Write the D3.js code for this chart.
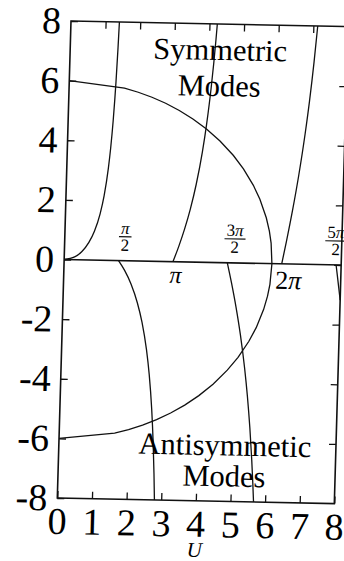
<!DOCTYPE html>
<html>
<head>
<meta charset="utf-8">
<script src="https://cdn.jsdelivr.net/npm/d3@7/dist/d3.min.js"></script>
<style>
  html, body { margin: 0; padding: 0; background: #fff; }
  svg { display: block; }
  text { font-family: "Liberation Serif", "Times New Roman", serif; fill: #000; }
</style>
</head>
<body>
<svg id="chart" width="344" height="561"></svg>
<script>
// Axis ticks
const uTicks = [0, 1, 2, 3, 4, 5, 6, 7, 8];
const wTicks = [-8, -6, -4, -2, 0, 2, 4, 6, 8];
const innerTicksU = [1, 2, 3, 4, 5, 6, 7];
const innerTicksW = [-6, -4, -2, 0, 2, 4, 6];

// Normalised frequency circle U^2 + W^2 = V^2 with V = 6 (upper and lower halves)
const circleUpper = [
  [0, 6], [1.6, 5.783], [2.0, 5.657], [2.4, 5.499], [2.8, 5.307], [3.2, 5.075],
  [3.6, 4.8], [4.0, 4.472], [4.4, 4.079], [4.8, 3.6], [5.1, 3.161], [5.4, 2.615],
  [5.6, 2.154], [5.8, 1.536], [5.9, 1.091], [5.96, 0.692], [6.0, 0]
];
const circleLower = [
  [0, -6], [1.6, -5.783], [2.0, -5.657], [2.4, -5.499], [2.8, -5.307], [3.2, -5.075],
  [3.6, -4.8], [4.0, -4.472], [4.4, -4.079], [4.8, -3.6], [5.1, -3.161], [5.4, -2.615],
  [5.6, -2.154], [5.8, -1.536], [5.9, -1.091], [5.96, -0.692], [6.0, 0]
];

// Symmetric-mode branches, W = U tan U
const symBranch1 = [
  [0, 0], [0.3, 0.093], [0.5, 0.273], [0.7, 0.59], [0.85, 0.968], [1.0, 1.557],
  [1.1, 2.161], [1.2, 3.087], [1.25, 3.762], [1.3, 4.683], [1.35, 6.015],
  [1.38, 7.147], [1.398, 8.0]
];
const symBranch2 = [
  [3.1416, 0], [3.3, 0.527], [3.45, 1.099], [3.6, 1.776], [3.75, 2.612],
  [3.9, 3.695], [4.0, 4.635], [4.1, 5.84], [4.2, 7.468], [4.226, 8.0]
];
const symBranch3 = [
  [6.2832, 0], [6.4, 0.751], [6.55, 1.79], [6.7, 2.966], [6.85, 4.361],
  [6.95, 5.469], [7.05, 6.795], [7.126, 8.0]
];

// Antisymmetric-mode branches, W = U cot U
const antiBranch1 = [
  [1.5708, 0], [1.75, -0.317], [1.95, -0.777], [2.15, -1.407], [2.3, -2.055],
  [2.45, -2.959], [2.55, -3.795], [2.65, -4.946], [2.72, -6.07], [2.77, -7.115],
  [2.8045, -8.0]
];
const antiBranch2 = [
  [4.7124, 0], [4.85, -0.672], [5.0, -1.479], [5.15, -2.41], [5.3, -3.531],
  [5.4, -4.436], [5.5, -5.525], [5.58, -6.588], [5.63, -7.363], [5.6665, -8.0]
];
const antiBranch3 = [
  [7.854, 0], [7.9, -0.364], [7.95, -0.766], [8.0, -1.177]
];

// Marks on the U axis
const fractionLabels = [
  { num: "", den: "2", u: 1.5708 },
  { num: "3", den: "2", u: 4.7124 },
  { num: "5", den: "2", u: 7.854 }
];
const multipleLabels = [
  { coef: "", u: 3.1416 },
  { coef: "2", u: 6.2832 }
];

const W = 277, H = 477;
const svg = d3.select("#chart");

// The plot sits slightly skewed on the page
const g = svg.append("g")
  .attr("transform", "matrix(1, 0.0202, -0.0287, 1, 71, 21)");

const x = d3.scaleLinear().domain([0, 8]).range([0, W]);
const y = d3.scaleLinear().domain([-8, 8]).range([H, 0]);

const ink = "#111";
const tickLen = 7;

// Frame
g.append("rect")
  .attr("x", 0).attr("y", 0).attr("width", W).attr("height", H)
  .attr("fill", "none").attr("stroke", ink).attr("stroke-width", 1.6);

// Axes: labelled left and bottom, tick marks only on top and right
const fmt = d => String(d);

const axisB = g.append("g").attr("transform", `translate(0,${H})`)
  .call(d3.axisBottom(x).tickValues(uTicks).tickSize(-tickLen).tickPadding(9).tickFormat(fmt));
const axisL = g.append("g")
  .call(d3.axisLeft(y).tickValues(wTicks).tickSize(-tickLen).tickPadding(10).tickFormat(fmt));
const axisT = g.append("g")
  .call(d3.axisTop(x).tickValues(innerTicksU).tickSize(-tickLen).tickFormat(""));
const axisR = g.append("g").attr("transform", `translate(${W},0)`)
  .call(d3.axisRight(y).tickValues(innerTicksW).tickSize(-tickLen).tickFormat(""));

[axisB, axisL, axisT, axisR].forEach(a => {
  a.select(".domain").remove();
  a.selectAll(".tick line").attr("stroke", ink).attr("stroke-width", 1.3);
  a.selectAll(".tick text")
    .style("font-family", '"Liberation Serif", serif')
    .style("font-size", "38px")
    .attr("fill", "#000");
});

// U axis title
g.append("text")
  .attr("x", x(4)).attr("y", H + 56)
  .attr("text-anchor", "middle")
  .style("font-size", "21px").style("font-style", "italic")
  .text("U");

// W = 0 line
const line = d3.line().x(d => x(d[0])).y(d => y(d[1]));
g.append("path")
  .attr("d", line([[0, 0], [8, 0]]))
  .attr("fill", "none").attr("stroke", ink).attr("stroke-width", 1.5);

// Circle
[circleUpper, circleLower].forEach(pts => {
  g.append("path")
    .attr("d", line.curve(d3.curveLinear)(pts))
    .attr("fill", "none").attr("stroke", ink).attr("stroke-width", 1.3);
});

// Mode branches
const smooth = d3.line().x(d => x(d[0])).y(d => y(d[1])).curve(d3.curveMonotoneX);
[symBranch1, symBranch2, symBranch3, antiBranch1, antiBranch2, antiBranch3].forEach(pts => {
  g.append("path")
    .attr("d", smooth(pts))
    .attr("fill", "none").attr("stroke", ink).attr("stroke-width", 1.3);
});

// Fractions above the axis: π/2, 3π/2, 5π/2
const fracNudge = [6, 7, -1];
fractionLabels.forEach((f, i) => {
  const fg = g.append("g")
    .attr("transform", `translate(${x(f.u) + fracNudge[i]},${y(0) - 24})`);
  const num = fg.append("text")
    .attr("x", 0).attr("y", -3)
    .attr("text-anchor", "middle")
    .style("font-size", "17px");
  if (f.num) num.append("tspan").text(f.num);
  num.append("tspan").style("font-style", "italic").text("π");
  const bw = num.node().getComputedTextLength() + 4;
  fg.append("line")
    .attr("x1", -bw / 2).attr("x2", bw / 2).attr("y1", 0).attr("y2", 0)
    .attr("stroke", ink).attr("stroke-width", 1.1);
  fg.append("text")
    .attr("x", 0).attr("y", 14)
    .attr("text-anchor", "middle")
    .style("font-size", "17px")
    .text(f.den);
});

// Multiples of π below the axis
const multNudge = [3, 7];
const multSize = [24, 26];
multipleLabels.forEach((m, i) => {
  const t = g.append("text")
    .attr("x", x(m.u) + multNudge[i])
    .attr("y", y(0) + (i === 0 ? 21 : 25))
    .attr("text-anchor", "middle")
    .style("font-size", multSize[i] + "px");
  if (m.coef) t.append("tspan").text(m.coef);
  t.append("tspan").style("font-style", "italic").text("π");
});

// Region captions
const caption = (lines, cx, y0, gap) => {
  lines.forEach((s, i) => {
    g.append("text")
      .attr("x", cx).attr("y", y0 + i * gap)
      .attr("text-anchor", "middle")
      .style("font-size", "30.5px")
      .text(s);
  });
};
caption(["Symmetric", "Modes"], 150, 36, 36);
caption(["Antisymmetic", "Modes"], 166, 431, 31);
</script>
</body>
</html>
